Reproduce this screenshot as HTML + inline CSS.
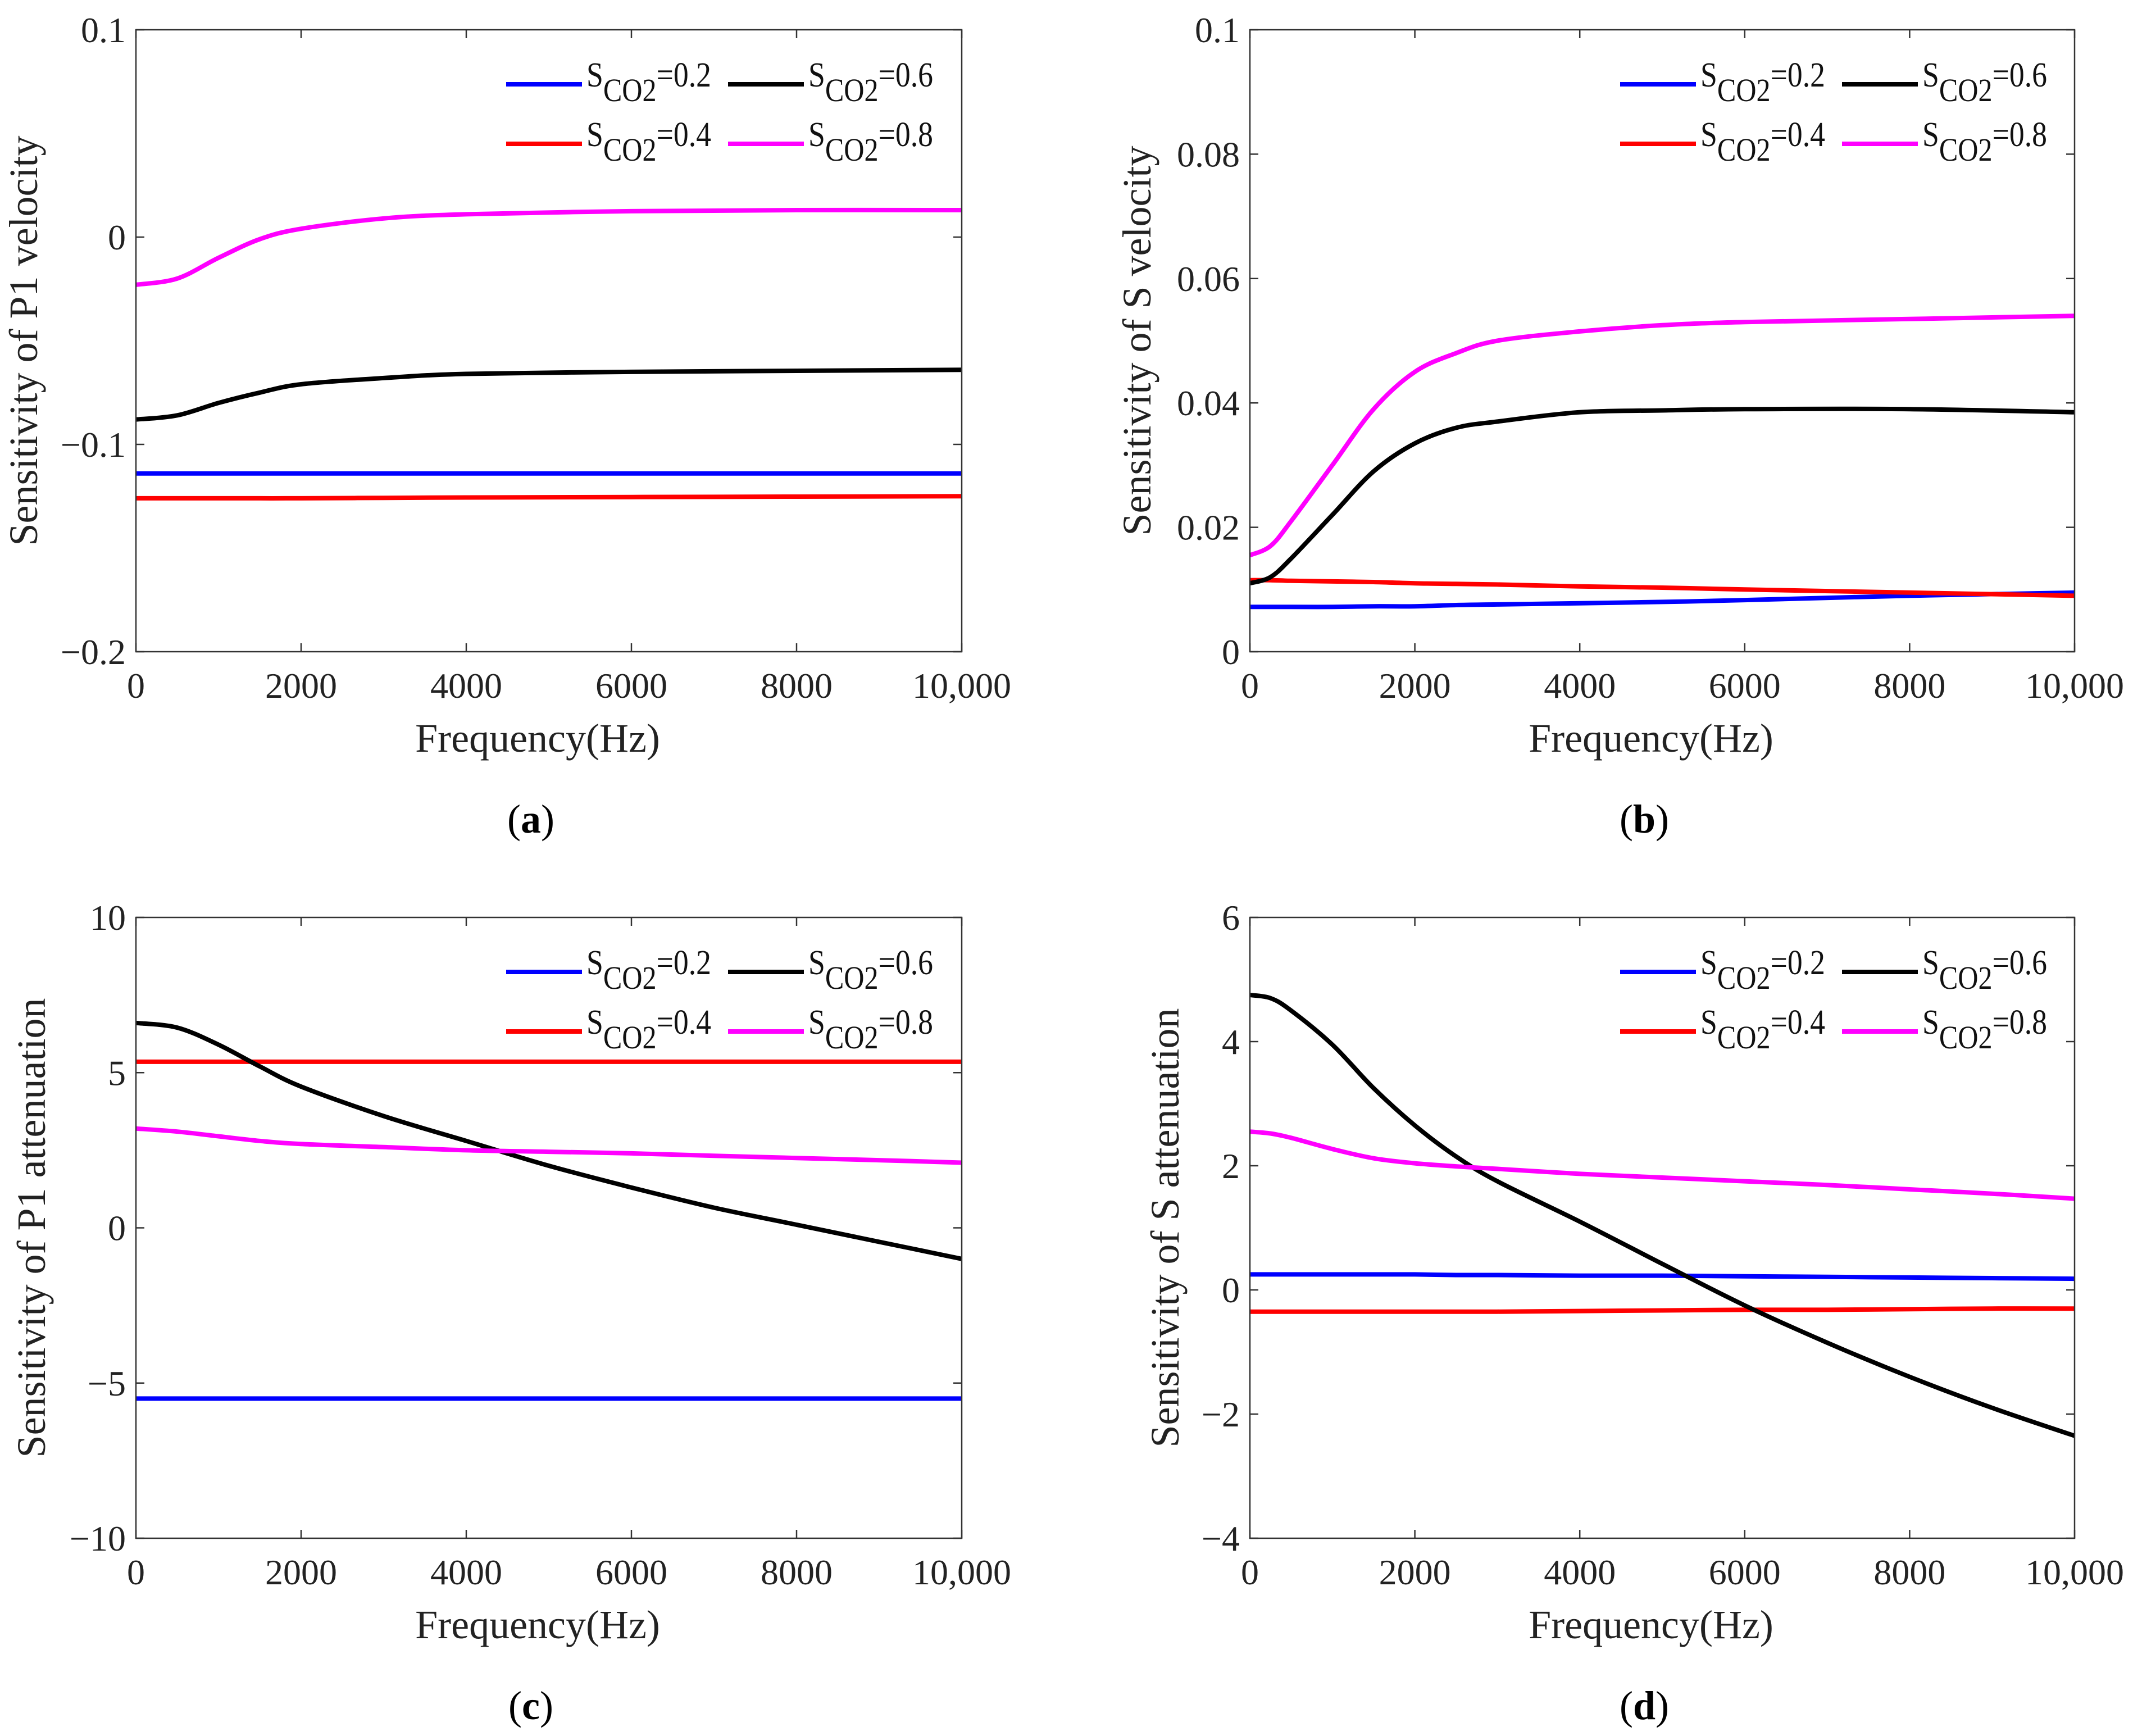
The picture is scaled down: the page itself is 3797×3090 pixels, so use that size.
<!DOCTYPE html>
<html><head><meta charset="utf-8">
<style>
html,body{margin:0;padding:0;background:#fff;}
svg{display:block;font-family:"Liberation Serif",serif;}
</style></head>
<body>
<svg id="fig" width="3797" height="3090" viewBox="0 0 3797 3090" xmlns="http://www.w3.org/2000/svg"></svg>
<script>
// ---- data ----
const freqA = [0,500,1000,1500,2000,3000,4000,6000,8000,10000];
const a_s02 = [-0.114,-0.114,-0.114,-0.114,-0.114,-0.114,-0.114,-0.114,-0.114,-0.114];
const a_s04 = [-0.126,-0.126,-0.126,-0.126,-0.126,-0.1258,-0.1256,-0.1254,-0.1252,-0.125];
const a_s06 = [-0.088,-0.086,-0.080,-0.075,-0.071,-0.068,-0.066,-0.065,-0.0645,-0.064];
const a_s08 = [-0.023,-0.020,-0.010,-0.001,0.004,0.009,0.011,0.0125,0.013,0.013];

const freqB = [0,250,500,1000,1500,2000,2500,3000,4000,5000,6000,8000,10000];
const b_s02 = [0.0072,0.0072,0.0072,0.0072,0.0073,0.0073,0.0075,0.0076,0.0078,0.0080,0.0083,0.0090,0.0095];
const b_s04 = [0.0115,0.0115,0.0114,0.0113,0.0112,0.0110,0.0109,0.0108,0.0105,0.0103,0.0100,0.0095,0.0090];
const b_s06 = [0.011,0.012,0.015,0.022,0.029,0.0335,0.036,0.037,0.0385,0.0388,0.039,0.039,0.0385];
const b_s08 = [0.0155,0.017,0.021,0.030,0.039,0.045,0.048,0.050,0.0515,0.0525,0.053,0.0535,0.054];

const freqC = [0,500,1000,1500,2000,3000,4000,5000,6000,7000,8000,9000,10000];
const c_s02 = [-5.5,-5.5,-5.5,-5.5,-5.5,-5.5,-5.5,-5.5,-5.5,-5.5,-5.5,-5.5,-5.5];
const c_s04 = [5.35,5.35,5.35,5.35,5.35,5.35,5.35,5.35,5.35,5.35,5.35,5.35,5.35];
const c_s06 = [6.6,6.45,5.9,5.2,4.55,3.6,2.8,2.0,1.3,0.65,0.1,-0.45,-1.0];
const c_s08 = [3.2,3.1,2.95,2.8,2.7,2.6,2.5,2.45,2.4,2.32,2.25,2.18,2.1];

const freqD = [0,250,500,1000,1500,2000,2500,3000,4000,5000,6000,7000,8000,9000,10000];
const d_s02 = [0.25,0.25,0.25,0.25,0.25,0.25,0.24,0.24,0.23,0.23,0.22,0.21,0.2,0.19,0.18];
const d_s04 = [-0.35,-0.35,-0.35,-0.35,-0.35,-0.35,-0.35,-0.35,-0.34,-0.33,-0.32,-0.32,-0.31,-0.3,-0.3];
const d_s06 = [4.75,4.7,4.5,3.95,3.25,2.65,2.15,1.75,1.1,0.42,-0.25,-0.85,-1.4,-1.9,-2.35];
const d_s08 = [2.55,2.52,2.45,2.27,2.12,2.04,1.99,1.95,1.87,1.81,1.75,1.69,1.62,1.55,1.47];

const xTicks = [0,2000,4000,6000,8000,10000];
const xTickLabels = ["0","2000","4000","6000","8000","10,000"];
const yTicksA = [-0.2,-0.1,0,0.1];
const yTickLabelsA = ["\u22120.2","\u22120.1","0","0.1"];
const yTicksB = [0,0.02,0.04,0.06,0.08,0.1];
const yTickLabelsB = ["0","0.02","0.04","0.06","0.08","0.1"];
const yTicksC = [-10,-5,0,5,10];
const yTickLabelsC = ["\u221210","\u22125","0","5","10"];
const yTicksD = [-4,-2,0,2,4,6];
const yTickLabelsD = ["\u22124","\u22122","0","2","4","6"];
const seriesNames = ["0.2","0.4","0.6","0.8"];
const colors = ["#0000ff","#ff0000","#000000","#ff00ff"];

const NS = "http://www.w3.org/2000/svg";
const svg = document.getElementById("fig");
function mk(tag, attrs, parent){
  const e = document.createElementNS(NS, tag);
  for (const k in attrs) e.setAttribute(k, attrs[k]);
  (parent||svg).appendChild(e);
  return e;
}
function smoothPath(P){
  let d = "M"+P[0][0].toFixed(1)+","+P[0][1].toFixed(1);
  for(let i=0;i<P.length-1;i++){
    const p0=P[Math.max(0,i-1)], p1=P[i], p2=P[i+1], p3=P[Math.min(P.length-1,i+2)];
    const c1=[p1[0]+(p2[0]-p0[0])/6, p1[1]+(p2[1]-p0[1])/6];
    const c2=[p2[0]-(p3[0]-p1[0])/6, p2[1]-(p3[1]-p1[1])/6];
    d+=" C"+c1[0].toFixed(1)+","+c1[1].toFixed(1)+" "+c2[0].toFixed(1)+","+c2[1].toFixed(1)+" "+p2[0].toFixed(1)+","+p2[1].toFixed(1);
  }
  return d;
}

function panel(opt){
  const g = mk("g", {});
  
  
  const L=opt.L, R=opt.R, T=opt.T, B=opt.B;
  const xs = v => L + (v-0)/(10000-0)*(R-L);
  const ys = v => B - (v-opt.ymin)/(opt.ymax-opt.ymin)*(B-T);
  opt.series.forEach((s,i)=>{
    const P = opt.freq.map((f,j)=>[xs(f), ys(s[j])]);
    const p = mk("path",{d:smoothPath(P),fill:"none",stroke:colors[i],"stroke-width":8,"stroke-linejoin":"round"},g);
    
    
  });
  const box = mk("rect",{x:L,y:T,width:R-L,height:B-T,fill:"none",stroke:"#333","stroke-width":2.5},g);
  
  
  xTicks.forEach((t,i)=>{
    const x = xs(t);
    mk("line",{x1:x,y1:B,x2:x,y2:B-15,stroke:"#333","stroke-width":2.5},g);
    mk("line",{x1:x,y1:T,x2:x,y2:T+15,stroke:"#333","stroke-width":2.5},g);
    const tx = mk("text",{x:x,y:B+82,"font-size":64,"text-anchor":"middle",fill:"#222"},g);
    tx.textContent = xTickLabels[i];
    
    
  });
  opt.yt.forEach((t,i)=>{
    const y = ys(t);
    mk("line",{x1:L,y1:y,x2:L+15,y2:y,stroke:"#333","stroke-width":2.5},g);
    mk("line",{x1:R,y1:y,x2:R-15,y2:y,stroke:"#333","stroke-width":2.5},g);
    const tx = mk("text",{x:L-18,y:y+22,"font-size":64,"text-anchor":"end",fill:"#222"},g);
    tx.textContent = opt.ytl[i];
    
    
  });
  const xt = mk("text",{x:(L+R)/2-20,y:B+178,"font-size":72,"text-anchor":"middle",fill:"#222"},g);
  xt.textContent = "Frequency(Hz)";
  
  
  const cy=(T+B)/2;
  const yt = mk("text",{x:opt.ytx,y:cy,"font-size":72,"text-anchor":"middle",fill:"#222",transform:"rotate(-90 "+opt.ytx+" "+cy+")"},g);
  yt.setAttribute("xml:space","preserve");
  yt.textContent = opt.ytitle;
  
  
  const pl = mk("text",{x:(L+R)/2-32,y:B+322,"font-size":72,"text-anchor":"middle",fill:"#000"},g);
  pl.innerHTML = '(<tspan font-weight="bold">'+opt.id+'</tspan>)';
  
  
  const lx=[L+659, L+1054], ly=[T+97, T+203];
  const order=[[0,0,0],[1,0,1],[2,1,0],[3,1,1]];
  order.forEach(o=>{
    const i=o[0], x=lx[o[1]], y=ly[o[2]];
    const lg = mk("g",{},g);
    
    
    mk("line",{x1:x,y1:y,x2:x+135,y2:y,stroke:colors[i],"stroke-width":8},lg);
    const t = mk("text",{x:x+143,y:y+4,"font-size":62,fill:"#111",textLength:222,lengthAdjust:"spacingAndGlyphs"},lg);
    t.innerHTML = 'S<tspan dy="26" font-size="58">CO2</tspan><tspan dy="-26">=' + seriesNames[i] + '</tspan>';
  });
}

panel({id:"a",L:242,R:1712,T:53,B:1160,ymin:-0.2,ymax:0.1,yt:yTicksA,ytl:yTickLabelsA,ytx:66,
  ytitle:"Sensitivity of P1 velocity",freq:freqA,series:[a_s02,a_s04,a_s06,a_s08]});
panel({id:"b",L:2225,R:3693,T:53,B:1160,ymin:0,ymax:0.1,yt:yTicksB,ytl:yTickLabelsB,ytx:2048,
  ytitle:"Sensitivity of S velocity",freq:freqB,series:[b_s02,b_s04,b_s06,b_s08]});
panel({id:"c",L:242,R:1712,T:1633,B:2738,ymin:-10,ymax:10,yt:yTicksC,ytl:yTickLabelsC,ytx:80,
  ytitle:"Sensitivity of P1  attenuation",freq:freqC,series:[c_s02,c_s04,c_s06,c_s08]});
panel({id:"d",L:2225,R:3693,T:1633,B:2738,ymin:-4,ymax:6,yt:yTicksD,ytl:yTickLabelsD,ytx:2098,
  ytitle:"Sensitivity of S  attenuation",freq:freqD,series:[d_s02,d_s04,d_s06,d_s08]});
</script>
</body></html>
